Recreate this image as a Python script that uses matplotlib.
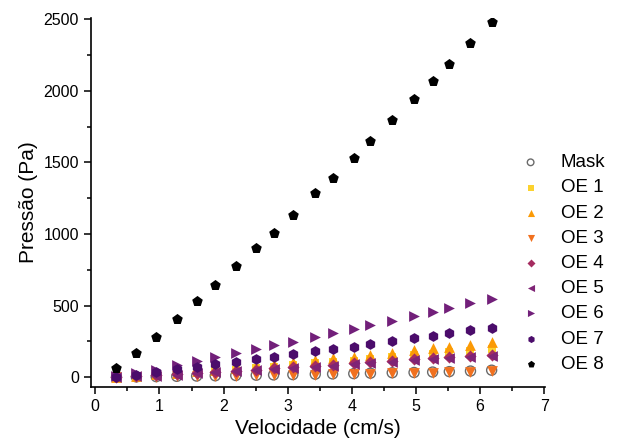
import matplotlib.pyplot as plt

plt.rcParams['font.family'] = ['Liberation Sans', 'DejaVu Sans']

# Velocidade medida (cm/s), comum a todas as séries
vel = [0.33, 0.64, 0.95, 1.27, 1.58, 1.87, 2.19, 2.51, 2.78, 3.08,
       3.43, 3.70, 4.03, 4.29, 4.63, 4.97, 5.26, 5.52, 5.85, 6.18]

# Pressão (Pa) para cada amostra
mask = [0, 1, 3, 5, 7, 9, 11, 13, 15, 17, 20, 22, 24, 27, 30, 32, 35, 38, 42, 48]
oe1 = [1, 7, 15, 23, 32, 41, 50, 60, 71, 84, 96, 105, 115, 125, 138, 152, 162, 172, 183, 195]
oe2 = [2, 10, 20, 30, 41, 52, 62, 74, 88, 105, 120, 130, 142, 154, 170, 187, 200, 212, 226, 242]
oe3 = [0, 2, 3, 5, 6, 8, 10, 12, 13, 15, 17, 19, 21, 23, 26, 29, 31, 34, 37, 42]
oe4 = [0, 6, 12, 20, 28, 36, 44, 52, 60, 68, 74, 84, 95, 102, 112, 123, 130, 137, 147, 156]
oe5 = [0, 5, 10, 17, 25, 33, 40, 47, 55, 63, 70, 80, 90, 98, 107, 118, 124, 131, 140, 148]
oe6 = [8, 26, 49, 84, 112, 142, 170, 193, 223, 247, 277, 305, 335, 365, 391, 426, 456, 484, 519, 549]
oe7 = [3, 14, 37, 54, 72, 89, 107, 126, 142, 160, 182, 196, 212, 230, 254, 270, 286, 309, 328, 345]
oe8 = [63, 170, 277, 408, 530, 642, 775, 903, 1008, 1131, 1283, 1394, 1534, 1649, 1795, 1941,
       2072, 2188, 2334, 2479]

labels = ['Mask', 'OE 1', 'OE 2', 'OE 3', 'OE 4', 'OE 5', 'OE 6', 'OE 7', 'OE 8']
series = [mask, oe1, oe2, oe3, oe4, oe5, oe6, oe7, oe8]
markers = ['o', 's', '^', 'v', 'D', '<', '>', 'h', 'p']
colors = ['#6b6b6b', '#fcd22e', '#fb9a06', '#f1711f', '#a52c60', '#7f2476', '#72207a', '#4b0c6b', '#000000']
sizes = [52, 38, 60, 60, 38, 60, 60, 60, 64]

fig = plt.figure(figsize=(6.22, 4.48), dpi=100)
ax = fig.add_axes([0.146, 0.136, 0.730, 0.824])

for y, lab, m, c, s in zip(series, labels, markers, colors, sizes):
    if m == 'o':
        ax.scatter(vel, y, s=s, marker=m, facecolors='none', edgecolors=c, linewidths=1.0, label=lab)
    else:
        ax.scatter(vel, y, s=s, marker=m, color=c, linewidths=0, label=lab)

ax.set_xlim(-0.07, 7.01)
ax.set_ylim(-70, 2510)
ax.set_xticks(range(0, 8))
ax.set_xticks([i + 0.5 for i in range(0, 7)], minor=True)
ax.set_yticks(range(0, 2501, 500))
ax.set_yticks(range(250, 2500, 500), minor=True)
ax.tick_params(which='major', length=5, width=1.1, labelsize=11.5, direction='out')
ax.tick_params(which='minor', length=3, width=1.1, direction='out')

for side in ['top', 'right']:
    ax.spines[side].set_visible(False)
for side in ['left', 'bottom']:
    ax.spines[side].set_linewidth(1.2)

ax.set_xlabel('Velocidade (cm/s)', fontsize=15)
ax.set_ylabel('Pressão (Pa)', fontsize=15)

ax.legend(loc='upper left', bbox_to_anchor=(0.838, 0.656), bbox_transform=fig.transFigure,
          frameon=False, fontsize=13.5, markerscale=0.66, handlelength=1.0,
          handletextpad=1.1, labelspacing=0.43, borderpad=0, borderaxespad=0)

plt.savefig('out.png', dpi=100)
